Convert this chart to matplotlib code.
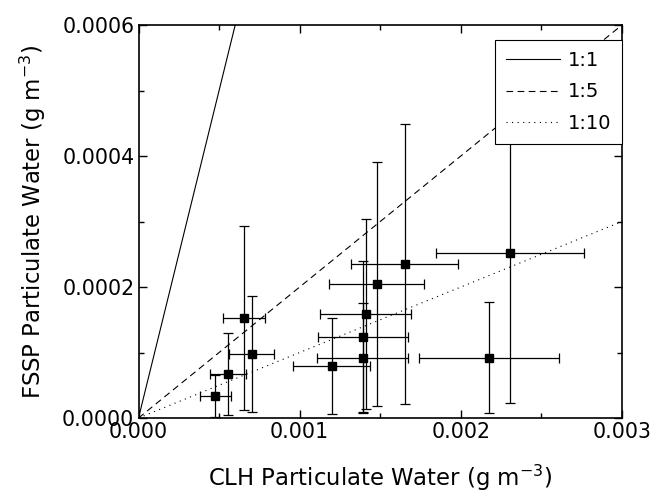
import numpy as np
import matplotlib
matplotlib.use("Agg")
import matplotlib.pyplot as plt
from matplotlib.ticker import FormatStrFormatter, MultipleLocator

# CLH vs FSSP particulate water (g m^-3)
clh = [0.000475, 0.000553, 0.000654, 0.000702, 0.001198, 0.00139, 0.001393,
       0.001409, 0.001477, 0.001653, 0.002174, 0.002304]
fssp = [0.0000336, 0.0000672, 0.000153, 0.0000977, 0.0000799, 0.000092, 0.000124,
        0.000159, 0.000205, 0.0002356, 0.000092, 0.000252]
clh_err = [0.000096, 0.000112, 0.00013, 0.00014, 0.00024, 0.00028, 0.00028,
           0.000282, 0.000297, 0.000332, 0.000436, 0.000461]
fssp_err = [0.000032, 0.000063, 0.00014, 0.000089, 0.000073, 0.000084, 0.000115,
            0.000145, 0.000186, 0.000214, 0.000085, 0.000229]

ratios = [1, 5, 10]
ratio_labels = ["1:1", "1:5", "1:10"]
ratio_styles = ["-", (0, (6, 4)), (0, (1, 4))]

plt.rcParams['font.family'] = ['DejaVu Sans']

fig = plt.figure(figsize=(6.64, 4.98), dpi=100)
ax = fig.add_axes([0.2086, 0.1606, 0.7281, 0.7892])

xs = np.array([0.0, 0.003])
for r, lab, ls in zip(ratios, ratio_labels, ratio_styles):
    ax.plot(xs, xs / r, color="black", lw=0.8, linestyle=ls, label=lab)

ax.errorbar(clh, fssp, xerr=clh_err, yerr=fssp_err, fmt="s", color="black",
            ms=6, elinewidth=0.9, capsize=3.5, capthick=0.9, zorder=3)

ax.set_xlim(0, 0.003)
ax.set_ylim(0, 0.0006)
ax.xaxis.set_major_locator(MultipleLocator(0.001))
ax.xaxis.set_minor_locator(MultipleLocator(0.0005))
ax.yaxis.set_major_locator(MultipleLocator(0.0002))
ax.yaxis.set_minor_locator(MultipleLocator(0.0001))
ax.xaxis.set_major_formatter(FormatStrFormatter("%.3f"))
ax.yaxis.set_major_formatter(FormatStrFormatter("%.4f"))
ax.tick_params(which="both", direction="in", top=True, right=True,
               labelsize=14.8, width=1.0)
ax.tick_params(which="major", length=5.5, pad=3)
ax.tick_params(which="minor", length=3.5)
for s in ax.spines.values():
    s.set_linewidth(1.2)

ax.set_xlabel("CLH Particulate Water (g m$^{-3}$)", fontsize=16.4, labelpad=15)
ax.set_ylabel("FSSP Particulate Water (g m$^{-3}$)", fontsize=16.4, labelpad=10)

leg = ax.legend(loc="upper right", bbox_to_anchor=(1.0, 1 - 15 / 393),
                borderaxespad=0, fontsize=14, fancybox=False, framealpha=1,
                handlelength=2.8, handletextpad=0.4, edgecolor="black",
                borderpad=0.55, labelspacing=0.65)
leg.get_frame().set_linewidth(0.8)
leg.set_zorder(5)

fig.savefig("out.png", dpi=100)
